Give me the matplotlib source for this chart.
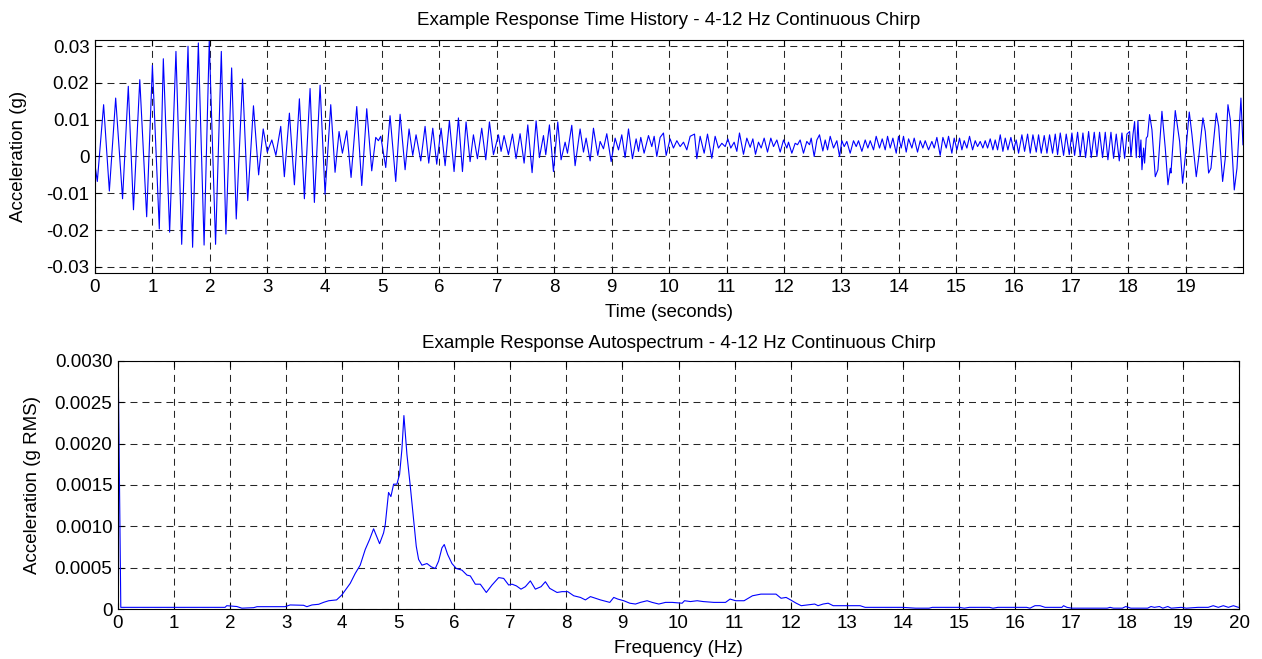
import matplotlib
matplotlib.use("Agg")
import matplotlib.pyplot as plt
import numpy as np

# Response time history, read as turning points (time in s, acceleration in g)
time_0to3 = [0.00, 0.04, 0.15, 0.25, 0.36, 0.48, 0.58, 0.67, 0.78, 0.90, 1.00, 1.12,
             1.19, 1.30, 1.41, 1.51, 1.62, 1.70, 1.80, 1.90, 1.99, 2.10, 2.20, 2.28,
             2.38, 2.46, 2.57, 2.66, 2.76, 2.85, 2.93, 3.00, 3.08, 3.15]
accel_0to3 = [-0.0023, -0.0068, 0.0141, -0.0094, 0.0159, -0.0115, 0.0191, -0.0145,
              0.0209, -0.0164, 0.0248, -0.0197, 0.0266, -0.0206, 0.0286, -0.0239,
              0.0300, -0.0247, 0.0309, -0.0241, 0.0314, -0.0239, 0.0286, -0.0211,
              0.0241, -0.0170, 0.0211, -0.0120, 0.0138, -0.0050, 0.0075, 0.0012,
              0.0045, 0.0003]

time_3to6 = [3.235, 3.298, 3.386, 3.473, 3.560, 3.647, 3.746, 3.821, 3.920, 4.007,
             4.106, 4.181, 4.251, 4.309, 4.385, 4.460, 4.559, 4.646, 4.733, 4.820,
             4.890, 4.936, 4.977, 5.064, 5.139, 5.238, 5.314, 5.401, 5.470, 5.534,
             5.592, 5.674, 5.749, 5.813, 5.883, 5.952, 6.028, 6.098, 6.173]
accel_3to6 = [0.0082, -0.0055, 0.0118, -0.0077, 0.0157, -0.0115, 0.0185, -0.0125,
              0.0194, -0.0103, 0.0141, -0.0043, 0.0068, 0.0009, 0.0070, -0.0057,
              0.0136, -0.0079, 0.0130, -0.0039, 0.0052, 0.0043, 0.0055, -0.0030,
              0.0111, -0.0068, 0.0115, -0.0036, 0.0075, 0.0003, 0.0059, -0.0012,
              0.0082, -0.0018, 0.0077, -0.0021, 0.0077, -0.0025, 0.0097]

time_6to9 = [6.254, 6.330, 6.400, 6.463, 6.533, 6.591, 6.661, 6.736, 6.806, 6.870,
             6.940, 7.027, 7.073, 7.125, 7.201, 7.271, 7.334, 7.404, 7.474, 7.538,
             7.613, 7.683, 7.741, 7.811, 7.851, 7.915, 7.985, 8.060, 8.118, 8.188,
             8.229, 8.304, 8.362, 8.449, 8.508, 8.554, 8.624, 8.682, 8.757, 8.798,
             8.856, 8.914, 8.990, 9.059, 9.118]
accel_6to9 = [-0.0041, 0.0105, -0.0041, 0.0094, -0.0014, 0.0059, -0.0006, 0.0077,
              -0.0009, 0.0094, 0.0005, 0.0059, 0.0014, 0.0057, 0.0005, 0.0061,
              -0.0006, 0.0062, -0.0018, 0.0086, -0.0044, 0.0097, -0.0003, 0.0057,
              0.0005, 0.0086, -0.0041, 0.0094, -0.0009, 0.0039, 0.0009, 0.0085,
              -0.0025, 0.0075, 0.0012, 0.0050, -0.0012, 0.0077, 0.0003, 0.0041,
              0.0021, 0.0062, -0.0014, 0.0050, 0.0018]

time_9to12 = [9.175, 9.233, 9.292, 9.361, 9.425, 9.466, 9.506, 9.564, 9.640, 9.698,
              9.739, 9.785, 9.843, 9.901, 9.948, 10.017, 10.075, 10.134, 10.192,
              10.250, 10.308, 10.366, 10.442, 10.482, 10.540, 10.610, 10.668,
              10.743, 10.801, 10.859, 10.918, 10.976, 11.022, 11.074, 11.132,
              11.179, 11.225, 11.295, 11.353, 11.411, 11.458, 11.504, 11.556,
              11.603, 11.655, 11.713, 11.771, 11.818, 11.876, 11.934, 11.992, 12.050]
accel_9to12 = [0.0059, -0.0003, 0.0075, -0.0006, 0.0048, 0.0014, 0.0052, 0.0009,
               0.0057, 0.0027, 0.0055, 0.0000, 0.0052, 0.0064, 0.0003, 0.0048,
               0.0023, 0.0043, 0.0027, 0.0039, 0.0018, 0.0055, 0.0061, -0.0006,
               0.0055, 0.0009, 0.0061, -0.0005, 0.0055, 0.0023, 0.0036, 0.0027,
               0.0048, 0.0023, 0.0039, 0.0014, 0.0064, 0.0006, 0.0050, 0.0025,
               0.0048, 0.0006, 0.0039, 0.0023, 0.0050, 0.0012, 0.0050, 0.0027,
               0.0045, 0.0012, 0.0045, 0.0023]

time_12to15 = [12.079, 12.137, 12.195, 12.236, 12.282, 12.340, 12.398, 12.445,
               12.474, 12.526, 12.573, 12.619, 12.677, 12.718, 12.759, 12.805,
               12.863, 12.921, 12.968, 13.008, 13.049, 13.095, 13.153, 13.211,
               13.258, 13.298, 13.357, 13.415, 13.461, 13.502, 13.560, 13.606,
               13.664, 13.711, 13.763, 13.804, 13.850, 13.897, 13.955, 13.995,
               14.042, 14.082, 14.129, 14.170, 14.228, 14.268, 14.326, 14.373,
               14.419, 14.460, 14.518, 14.576, 14.617, 14.663, 14.721, 14.768,
               14.826, 14.866, 14.924, 14.965, 15.012]
accel_12to15 = [0.0039, 0.0009, 0.0036, 0.0032, 0.0045, 0.0009, 0.0041, 0.0032,
                0.0050, 0.0000, 0.0045, 0.0059, 0.0015, 0.0045, 0.0018, 0.0055,
                0.0023, 0.0043, 0.0000, 0.0043, 0.0027, 0.0041, 0.0009, 0.0043,
                0.0027, 0.0043, 0.0014, 0.0045, 0.0023, 0.0043, 0.0018, 0.0055,
                0.0023, 0.0048, 0.0018, 0.0055, 0.0023, 0.0050, 0.0009, 0.0055,
                0.0023, 0.0055, 0.0012, 0.0048, 0.0023, 0.0050, 0.0012, 0.0043,
                0.0023, 0.0043, 0.0018, 0.0041, 0.0023, 0.0052, 0.0003, 0.0052,
                0.0023, 0.0055, 0.0009, 0.0050, 0.0018]

time_15to18 = [15.058, 15.099, 15.139, 15.186, 15.232, 15.285, 15.331, 15.372,
               15.418, 15.464, 15.505, 15.546, 15.592, 15.639, 15.679, 15.720,
               15.767, 15.813, 15.854, 15.900, 15.952, 15.999, 16.045, 16.086,
               16.144, 16.191, 16.243, 16.289, 16.336, 16.394, 16.434, 16.481,
               16.533, 16.580, 16.626, 16.678, 16.725, 16.765, 16.812, 16.870,
               16.916, 16.969, 17.015, 17.062, 17.114, 17.160, 17.207, 17.253,
               17.306, 17.352, 17.404, 17.451, 17.497, 17.549, 17.596, 17.642,
               17.695, 17.741, 17.787, 17.840, 17.886, 17.933, 17.973]
accel_15to18 = [0.0050, 0.0018, 0.0043, 0.0023, 0.0055, 0.0018, 0.0043, 0.0027,
                0.0041, 0.0023, 0.0043, 0.0023, 0.0048, 0.0018, 0.0045, 0.0018,
                0.0059, 0.0014, 0.0050, 0.0018, 0.0052, 0.0018, 0.0045, 0.0009,
                0.0059, 0.0014, 0.0061, 0.0009, 0.0059, 0.0012, 0.0059, 0.0009,
                0.0057, 0.0009, 0.0059, 0.0009, 0.0061, 0.0005, 0.0064, 0.0003,
                0.0061, 0.0005, 0.0064, 0.0003, 0.0066, 0.0000, 0.0064, -0.0003,
                0.0068, -0.0003, 0.0066, 0.0000, 0.0066, -0.0003, 0.0066, -0.0009,
                0.0066, -0.0005, 0.0061, -0.0012, 0.0064, -0.0005, 0.0061]

time_18to20 = [18.020, 18.043, 18.078, 18.107, 18.136, 18.165, 18.194, 18.217,
               18.235, 18.264, 18.281, 18.310, 18.333, 18.368, 18.409, 18.467,
               18.513, 18.583, 18.641, 18.688, 18.728, 18.740, 18.815, 18.891,
               18.943, 18.990, 19.059, 19.106, 19.181, 19.222, 19.297, 19.338,
               19.396, 19.437, 19.530, 19.571, 19.640, 19.686, 19.733, 19.774,
               19.843, 19.890, 19.959, 19.994]
accel_18to20 = [0.0068, 0.0000, 0.0059, 0.0095, -0.0003, 0.0097, -0.0003, 0.0045,
                -0.0036, 0.0023, -0.0018, 0.0050, 0.0055, 0.0114, 0.0073, -0.0055,
                -0.0036, 0.0123, 0.0023, -0.0077, -0.0032, -0.0045, 0.0125, 0.0041,
                -0.0073, 0.0000, 0.0121, 0.0059, -0.0055, -0.0005, 0.0105, 0.0068,
                -0.0045, -0.0032, 0.0118, 0.0082, -0.0068, -0.0005, 0.0141, 0.0100,
                -0.0091, -0.0032, 0.0159, 0.0032]

# Response autospectrum (frequency in Hz, g RMS)
freq_hz = [0.0, 0.05, 1.91, 1.94, 2.12, 2.21, 2.42, 2.48, 2.98, 3.07, 3.31, 3.37,
           3.46, 3.58, 3.67, 3.76, 3.90, 3.994, 4.143, 4.232, 4.321, 4.411, 4.488,
           4.560, 4.667, 4.738, 4.768, 4.827, 4.869, 4.917, 4.976, 5.024, 5.065,
           5.101, 5.155, 5.214, 5.274, 5.321, 5.363, 5.423, 5.512, 5.589, 5.661,
           5.720, 5.780, 5.821, 5.881, 5.958, 6.036, 6.137, 6.226, 6.286, 6.375,
           6.464, 6.571, 6.673, 6.792, 6.881, 6.970, 7.030, 7.107, 7.190, 7.268,
           7.357, 7.446, 7.548, 7.625, 7.702, 7.833, 7.923, 8.024, 8.131, 8.250,
           8.339, 8.429, 8.518, 8.607, 8.774, 8.845, 8.917, 9.024, 9.131, 9.232,
           9.321, 9.440, 9.530, 9.649, 9.768, 9.887, 10.065, 10.107, 10.214,
           10.333, 10.440, 10.631, 10.839, 10.92, 11.02, 11.17, 11.32, 11.47,
           11.74, 11.83, 11.92, 12.00, 12.10, 12.19, 12.43, 12.49, 12.58, 12.67,
           12.76, 13.00, 13.24, 13.33, 13.99, 14.23, 14.47, 14.53, 15.01, 15.10,
           15.19, 15.55, 15.61, 15.70, 16.21, 16.27, 16.36, 16.45, 16.54, 16.84,
           16.87, 16.93, 17.02, 17.65, 17.70, 17.76, 17.92, 17.98, 18.07, 18.37,
           18.43, 18.49, 18.58, 18.64, 18.73, 18.79, 18.97, 19.06, 19.27, 19.36,
           19.45, 19.54, 19.63, 19.72, 19.81, 19.90, 19.99]
asd_g_rms = [0.0032, 0.00002, 0.00002, 0.00004, 0.00003, 0.00001, 0.000016, 0.000028,
             0.000028, 0.000049, 0.000045, 0.000028, 0.000049, 0.000057, 0.000081,
             0.00010, 0.00011, 0.00017, 0.00031, 0.00043, 0.00053, 0.00072, 0.00084,
             0.00097, 0.00079, 0.00092, 0.00102, 0.00141, 0.00136, 0.00151, 0.00151,
             0.00163, 0.00193, 0.00234, 0.00187, 0.00149, 0.00108, 0.00076, 0.00060,
             0.00053, 0.00055, 0.00051, 0.00049, 0.00058, 0.00074, 0.00078, 0.00066,
             0.00055, 0.00049, 0.00047, 0.00041, 0.00040, 0.00030, 0.00030, 0.00020,
             0.00029, 0.00038, 0.00037, 0.00029, 0.00030, 0.00028, 0.00024, 0.00027,
             0.00034, 0.00024, 0.00027, 0.00033, 0.00025, 0.00020, 0.00021, 0.00021,
             0.00016, 0.00014, 0.00011, 0.00015, 0.00013, 0.00011, 0.00008, 0.00014,
             0.00012, 0.00010, 0.00007, 0.00006, 0.00008, 0.00010, 0.00008, 0.00006,
             0.00008, 0.00008, 0.00007, 0.00010, 0.00009, 0.00010, 0.00009, 0.00008,
             0.00008, 0.00012, 0.00010, 0.00010, 0.00016, 0.00018, 0.00018, 0.00013,
             0.00014, 0.00011, 0.00007, 0.00004, 0.00006, 0.00004, 0.00006, 0.00007,
             0.00004, 0.00004, 0.00004, 0.00002, 0.00002, 0.00001, 0.00001, 0.00002,
             0.00002, 0.00001, 0.00002, 0.00002, 0.00001, 0.00002, 0.00002, 0.00001,
             0.00004, 0.00004, 0.00002, 0.00002, 0.00004, 0.00002, 0.00001, 0.00001,
             0.00002, 0.00001, 0.00001, 0.00003, 0.00001, 0.00001, 0.00003, 0.00002,
             0.00003, 0.00001, 0.00003, 0.00001, 0.00002, 0.00001, 0.00002, 0.00002,
             0.00002, 0.00004, 0.00002, 0.00004, 0.00002, 0.00004, 0.00002]

time_s = np.concatenate([time_0to3, time_3to6, time_6to9, time_9to12,
                         time_12to15, time_15to18, time_18to20])
accel_g = np.concatenate([accel_0to3, accel_3to6, accel_6to9, accel_9to12,
                          accel_12to15, accel_15to18, accel_18to20])

plt.rcParams["font.family"] = ["Liberation Sans", "DejaVu Sans"]
FS = 13.5
plt.rcParams["font.size"] = FS

GRID = dict(color="0.15", linewidth=0.75, linestyle=(0, (6.7, 4.8)))


def style_axes(ax):
    ax.grid(True, **GRID)
    ax.tick_params(direction="in", length=4, width=0.8, top=True, right=True,
                   pad=4, labelsize=FS)
    for sp in ax.spines.values():
        sp.set_linewidth(0.8)
        sp.set_color("black")


fig = plt.figure(figsize=(12.62, 6.59), dpi=100)

# top: time history
ax1 = fig.add_axes([95 / 1262, 1 - 273 / 659, 1148 / 1262, 233 / 659])
ax1.plot(time_s, accel_g, color="blue", linewidth=0.8)
ax1.set_xlim(0, 19.995)
ax1.set_ylim(-0.0317, 0.0317)
ax1.set_xticks(np.arange(0, 20))
yt = np.arange(-0.03, 0.031, 0.01)
ax1.set_yticks(yt)
ax1.set_yticklabels(["-0.03", "-0.02", "-0.01", "0", "0.01", "0.02", "0.03"])
ax1.set_title("Example Response Time History - 4-12 Hz Continuous Chirp",
              fontsize=FS, pad=11)
ax1.set_xlabel("Time (seconds)")
ax1.set_ylabel("Acceleration (g)")
ax1.xaxis.set_label_coords(0.5, -0.133)
ax1.yaxis.set_label_coords(-0.059, 0.5)
style_axes(ax1)

# bottom: autospectrum
ax2 = fig.add_axes([118 / 1262, 1 - 609 / 659, 1121 / 1262, 248 / 659])
ax2.plot(freq_hz, asd_g_rms, color="blue", linewidth=0.8)
ax2.set_xlim(0, 20)
ax2.set_ylim(0, 0.003)
ax2.set_xticks(np.arange(0, 21))
yt2 = np.arange(0, 0.00301, 0.0005)
ax2.set_yticks(yt2)
ax2.set_yticklabels(["0"] + [f"{v:.4f}" for v in yt2[1:]])
ax2.set_title("Example Response Autospectrum - 4-12 Hz Continuous Chirp",
              fontsize=FS, pad=9)
ax2.set_xlabel("Frequency (Hz)")
ax2.set_ylabel("Acceleration (g RMS)")
ax2.xaxis.set_label_coords(0.5, -0.125)
ax2.yaxis.set_label_coords(-0.069, 0.5)
style_axes(ax2)

fig.savefig("out.png", dpi=100)
